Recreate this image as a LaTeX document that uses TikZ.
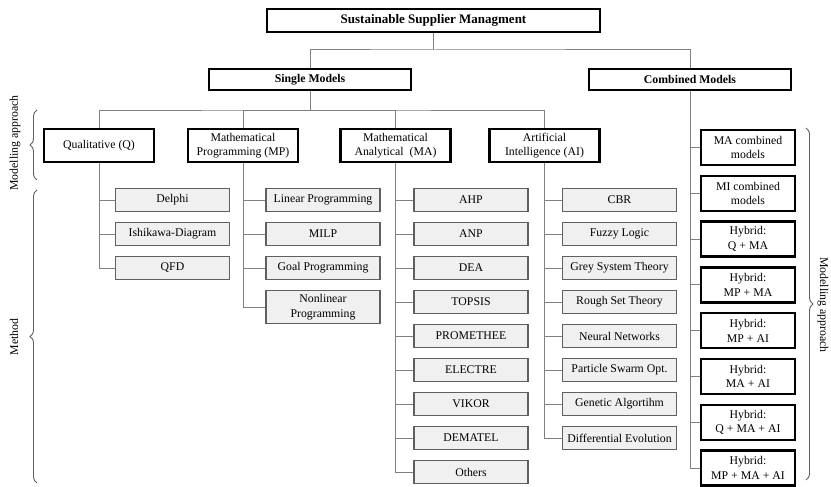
\documentclass[tikz,border=0pt]{standalone}
\usepackage{fontspec}
\setmainfont{Liberation Serif}
\usepackage{tikz}
\usetikzlibrary{positioning,decorations.pathreplacing}
\definecolor{ssmline}{HTML}{808080}
\definecolor{ssmedge}{HTML}{606060}
\definecolor{ssmfill}{HTML}{F0F0F0}

\begin{document}
\begin{tikzpicture}[x=1pt,y=-1pt,
    headbox/.style={draw=black, line width=2.4pt, inner sep=2pt, align=center,
      font=\fontsize{11.8}{14.5}\selectfont\bfseries},
    catbox/.style={draw=black, line width=2.4pt, inner sep=2pt, align=center,
      minimum width=110pt, minimum height=33pt, font=\fontsize{11.8}{14.5}\selectfont},
    methbox/.style={draw=ssmedge, fill=ssmfill, line width=1.1pt, inner sep=2pt, align=center,
      minimum width=114pt, minimum height=23pt, font=\fontsize{11.8}{14.5}\selectfont},
    combbox/.style={draw=black, line width=2.4pt, inner sep=2pt, align=center,
      minimum width=94pt, minimum height=35pt, font=\fontsize{11.8}{14.5}\selectfont},
    conn/.style={draw=ssmline, line width=1pt},
    sidebrace/.style={draw=ssmedge, line width=0.9pt, decorate,
      decoration={brace, amplitude=7pt}},
    sidelabel/.style={font=\fontsize{11.8}{14.5}\selectfont}]
  \useasboundingbox (0,0) rectangle (831,487);

  \node[headbox, minimum width=333pt, minimum height=23pt, font=\fontsize{13}{15}\selectfont\bfseries]
    (ssm) at (433.5,20.5) {Sustainable Supplier Managment};
  \node[headbox, minimum width=202pt, minimum height=21pt] (single) at (310,79.5) {Single Models};
  \node[headbox, minimum width=202pt, minimum height=21pt] (combined) at (690,79.5) {Combined Models};
  \coordinate (bus1) at (433.5,50);
  \draw[conn] (ssm.south) -- (bus1);
  \draw[conn] (single.north) |- (bus1) -| (combined.north);

  \node[catbox] (q) at (99,145.5) {Qualitative (Q)};
  \node[catbox] (mp) at (243,145.5) {Mathematical\\Programming (MP)};
  \node[catbox] (ma) at (395.5,145.5) {Mathematical\\Analytical~ (MA)};
  \node[catbox] (ai) at (544.5,145.5) {Artificial\\Intelligence (AI)};
  \coordinate (bus2) at (310,111);
  \draw[conn] (single.south) -- (bus2);
  \draw[conn] (q.north) |- (bus2) -| (ai.north);
  \draw[conn] (mp.north) |- (bus2);
  \draw[conn] (ma.north) |- (bus2);

  \foreach \t [count=\i] in {Delphi, Ishikawa-Diagram, QFD} {
    \node[methbox] (q\i) at (172.5,166+34*\i) {\t};
    \draw[conn] (q.south) |- (q\i.west);
  }
  \foreach \t [count=\i] in {Linear Programming, MILP, Goal Programming} {
    \node[methbox] (mp\i) at (323,166+34*\i) {\t};
    \draw[conn] (mp.south) |- (mp\i.west);
  }
  \node[methbox, minimum height=33pt] (mp4) at (323,307) {Nonlinear\\Programming};
  \draw[conn] (mp.south) |- (mp4.west);
  \foreach \t [count=\i] in {AHP, ANP, DEA, TOPSIS, PROMETHEE, ELECTRE, VIKOR, DEMATEL, Others} {
    \node[methbox] (ma\i) at (471,166+34*\i) {\t};
    \draw[conn] (ma.south) |- (ma\i.west);
  }
  \foreach \t [count=\i] in {CBR, Fuzzy Logic, Grey System Theory, Rough Set Theory, Neural Networks,
      Particle Swarm Opt., Genetic Algortihm, Differential Evolution} {
    \node[methbox] (ai\i) at (619.5,166+34*\i) {\t};
    \draw[conn] (ai.south) |- (ai\i.west);
  }
  \foreach \t [count=\i] in {{MA combined\\models}, {MI combined\\models}, {Hybrid:\\Q + MA},
      {Hybrid:\\MP + MA}, {Hybrid:\\MP + AI}, {Hybrid:\\MA + AI}, {Hybrid:\\Q + MA + AI},
      {Hybrid:\\MP + MA + AI}} {
    \node[combbox] (cm\i) at (748,101.7+45.8*\i) {\t};
    \draw[conn] (combined.south) |- (cm\i.west);
  }

  \draw[sidebrace] (37,180) -- (37,110);
  \draw[sidebrace] (37,483) -- (37,190);
  \draw[sidebrace] (806,128) -- (806,480);
  \node[sidelabel, rotate=90] (lma) at (15,143) {Modelling approach};
  \node[sidelabel, rotate=90] (lme) at (14,337) {Method};
  \node[sidelabel, rotate=-90] (rma) at (823,305) {Modelling approach};
\end{tikzpicture}
\end{document}
